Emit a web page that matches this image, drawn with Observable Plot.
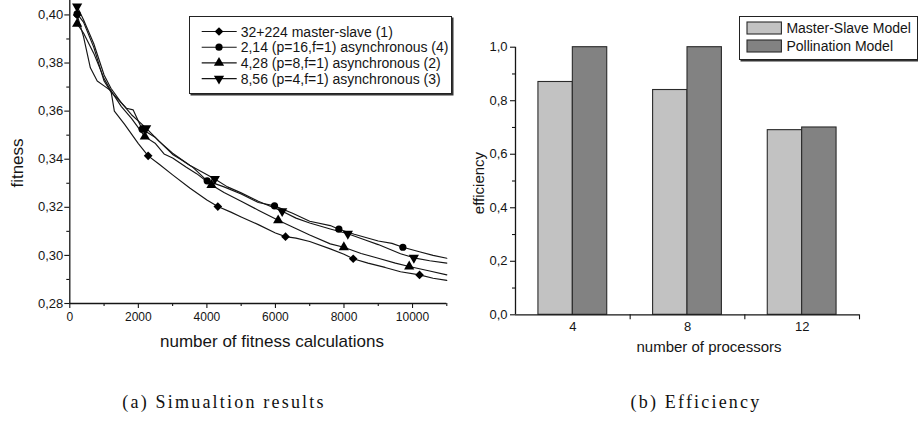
<!DOCTYPE html>
<html><head><meta charset="utf-8">
<script src="https://cdn.jsdelivr.net/npm/d3@7"></script>
<script src="https://cdn.jsdelivr.net/npm/@observablehq/plot@0.6"></script>
<style>
body{margin:0;background:#fff;}
#wrap{position:relative;width:918px;height:423px;overflow:hidden;background:#fff;font-family:"Liberation Sans",Arial,sans-serif;color:#151515;}
.abs{position:absolute;white-space:nowrap;}
.cap{font-family:"Liberation Serif","Times New Roman",serif;font-size:18px;letter-spacing:2.2px;color:#111;}
.box{border:1px solid #222;box-shadow:1.5px 1.5px 0 #333;background:#fff;box-sizing:border-box;}
</style></head><body><div id="wrap"></div>
<script>
// ---------- (a) Simulation results ----------
const seriesNames = ["32+224 master-slave (1)", "2,14 (p=16,f=1) asynchronous (4)", "4,28 (p=8,f=1) asynchronous (2)", "8,56 (p=4,f=1) asynchronous (3)"];
const calc1 = [214, 400, 600, 800, 1000, 1200, 1300, 1600, 2000, 2286, 2600, 3000, 3500, 4000, 4319, 4700, 5000, 5500, 6000, 6294, 6600, 7000, 7600, 8000, 8269, 8700, 9200, 9650, 10205, 10600, 11000];
const fit1  = [0.4000, 0.391, 0.378, 0.3725, 0.3705, 0.3685, 0.3600, 0.3545, 0.3465, 0.3414, 0.3380, 0.3335, 0.3280, 0.3230, 0.3203, 0.3180, 0.3160, 0.3128, 0.3093, 0.3078, 0.3072, 0.3058, 0.3027, 0.3005, 0.2986, 0.2968, 0.2950, 0.2932, 0.2919, 0.2905, 0.2896];
const mark1 = [214, 2286, 4319, 6294, 8269, 10205];
const calc2 = [214, 400, 700, 1000, 1200, 1500, 1650, 1850, 2110, 2500, 3000, 3230, 3600, 4008, 4500, 5000, 5500, 5973, 6500, 7000, 7600, 7851, 8300, 9000, 9400, 9718, 10200, 10600, 11000];
const fit2  = [0.4004, 0.397, 0.3865, 0.3725, 0.3680, 0.3635, 0.3612, 0.3605, 0.3525, 0.3490, 0.3420, 0.3400, 0.3365, 0.3310, 0.3285, 0.3255, 0.3220, 0.3206, 0.3175, 0.3142, 0.3124, 0.3109, 0.3088, 0.3060, 0.3050, 0.3034, 0.3015, 0.3000, 0.2988];
const mark2 = [214, 2110, 4008, 5973, 7851, 9718];
const calc3 = [214, 400, 700, 1000, 1200, 1500, 1800, 2189, 2500, 2750, 3000, 3400, 3700, 4134, 4500, 5000, 5500, 6080, 6500, 7000, 7600, 7996, 8500, 9000, 9500, 9903, 10500, 11000];
const fit3  = [0.3963, 0.3925, 0.3840, 0.3735, 0.3685, 0.3620, 0.3570, 0.3494, 0.3465, 0.3422, 0.3405, 0.3367, 0.3340, 0.3293, 0.3262, 0.3225, 0.3188, 0.3146, 0.3118, 0.3085, 0.3048, 0.3034, 0.3008, 0.2988, 0.2968, 0.2954, 0.2935, 0.2919];
const mark3 = [214, 2189, 4134, 6080, 7996, 9903];
const calc4 = [214, 400, 700, 1000, 1200, 1500, 1800, 2228, 2600, 3000, 3500, 4232, 4600, 5000, 5500, 6197, 6600, 7000, 7600, 8113, 8600, 9000, 9650, 10039, 10500, 11000];
const fit4  = [0.4035, 0.3980, 0.3880, 0.3750, 0.3695, 0.3635, 0.3585, 0.3529, 0.3475, 0.3425, 0.3375, 0.3318, 0.3285, 0.3260, 0.3225, 0.3184, 0.3155, 0.3135, 0.3110, 0.3090, 0.3065, 0.3045, 0.3007, 0.2990, 0.2978, 0.2968];
const mark4 = [214, 2228, 4232, 6197, 8113, 10039];
const calcTicks = [0, 2000, 4000, 6000, 8000, 10000];
const calcMinor = [1000, 3000, 5000, 7000, 9000, 11000];
const fitTicks = [0.28, 0.30, 0.32, 0.34, 0.36, 0.38, 0.40];
const fitMinor = [0.29, 0.31, 0.33, 0.35, 0.37, 0.39];

// ---------- (b) Efficiency ----------
const processors = [4, 8, 12];
const masterSlave = [0.87, 0.84, 0.69];
const pollination = [1.0, 1.0, 0.70];
const modelNames = ["Master-Slave Model", "Pollination Model"];
const effTicks = [0, 0.2, 0.4, 0.6, 0.8, 1.0];
const effMinor = [0.1, 0.3, 0.5, 0.7, 0.9];
const procBounds = [6, 10, 14];

// ---------- styling ----------
const ink = "#151515";
const symbolNames = ["diamond2", "circle", "triangle", "triangle"];
const symbolTypes = [d3.symbolDiamond2, d3.symbolCircle, d3.symbolTriangle, d3.symbolTriangle];
const symbolRot = [0, 0, 0, 180];
const symbolR = [3.9, 3.6, 3.8, 3.8];
const barFills = ["#c2c2c2", "#828282"];
const barHalf = 1.2; // bar width in processor units
const font = '"Liberation Sans", Arial, sans-serif';
const comma = (d, n) => d.toFixed(n).replace(".", ",");

const wrap = document.getElementById("wrap");
function place(el, x, y) { el.style.position = "absolute"; el.style.left = x + "px"; el.style.top = y + "px"; wrap.appendChild(el); return el; }
function label(text, cx, cy, size, rotate, cls) {
  const d = document.createElement("div");
  d.className = "abs " + (cls || "");
  d.textContent = text;
  if (size) d.style.fontSize = size + "px";
  d.style.left = cx + "px"; d.style.top = cy + "px";
  d.style.transform = "translate(-50%,-50%)" + (rotate ? " rotate(" + rotate + "deg)" : "");
  wrap.appendChild(d);
}

// ---------- left chart ----------
const calcs = [calc1, calc2, calc3, calc4];
const fits = [fit1, fit2, fit3, fit4];
const marks = [mark1, mark2, mark3, mark4];
const lineRows = [];
calcs.forEach((xs, i) => xs.forEach((x, j) => lineRows.push({s: seriesNames[i], x, y: fits[i][j]})));
const markRows = i => marks[i].map(x => ({x, y: fits[i][calcs[i].indexOf(x)]}));

const left = Plot.plot({
  width: 460, height: 330,
  marginLeft: 69.3, marginRight: 13.7, marginTop: 0, marginBottom: 27,
  x: {domain: [0, 11000]},
  y: {domain: [0.28, 0.406]},
  style: {fontFamily: font, fontSize: "13px", color: ink, background: "transparent", overflow: "visible"},
  marks: [
    Plot.axisY(fitTicks, {tickSize: 5, tickPadding: 1.5, tickFormat: d => comma(d, 2), fontSize: 13, label: null, strokeWidth: 1.1}),
    Plot.axisY(fitMinor, {tickSize: 3, tickFormat: () => "", label: null, strokeWidth: 1.1}),
    Plot.axisX(calcTicks, {tickSize: 5, tickPadding: 4, tickFormat: d => String(d), fontSize: 12, label: null, strokeWidth: 1.1}),
    Plot.axisX(calcMinor, {tickSize: 3, tickFormat: () => "", label: null, strokeWidth: 1.1}),
    Plot.ruleX([0], {stroke: ink, strokeWidth: 1.3}),
    Plot.ruleY([0.28], {stroke: ink, strokeWidth: 1.3}),
    Plot.line(lineRows, {x: "x", y: "y", z: "s", stroke: ink, strokeWidth: 1.15}),
    ...marks.map((m, i) => Plot.dot(markRows(i), {x: "x", y: "y", symbol: symbolNames[i], rotate: symbolRot[i], r: symbolR[i], fill: "#000", stroke: "none"}))
  ]
});
place(left, 0, 0);

// ---------- right chart ----------
const msRows = processors.map((p, i) => ({p, v: masterSlave[i]}));
const pmRows = processors.map((p, i) => ({p, v: pollination[i]}));
const right = Plot.plot({
  width: 458, height: 335,
  marginLeft: 55, marginRight: 59, marginTop: 46.7, marginBottom: 20.7,
  x: {domain: [2, 14]},
  y: {domain: [0, 1]},
  style: {fontFamily: font, fontSize: "13px", color: ink, background: "transparent", overflow: "visible"},
  marks: [
    Plot.rectY(msRows, {x1: d => d.p - barHalf, x2: d => d.p, y: "v", fill: barFills[0], stroke: "#2a2a2a", strokeWidth: 1.1}),
    Plot.rectY(pmRows, {x1: d => d.p, x2: d => d.p + barHalf, y: "v", fill: barFills[1], stroke: "#2a2a2a", strokeWidth: 1.1}),
    Plot.axisY(effTicks, {tickSize: 5, tickPadding: 3, tickFormat: d => comma(d, 1), fontSize: 13, label: null, strokeWidth: 1.1}),
    Plot.axisY(effMinor, {tickSize: 3, tickFormat: () => "", label: null, strokeWidth: 1.1}),
    Plot.axisX(processors, {tickSize: 0, tickPadding: 7, tickFormat: d => String(d), fontSize: 13, label: null}),
    Plot.axisX(procBounds, {tickSize: 5, tickFormat: () => "", label: null, strokeWidth: 1.1}),
    Plot.ruleX([2], {stroke: ink, strokeWidth: 1.3}),
    Plot.ruleY([0], {stroke: ink, strokeWidth: 1.3})
  ]
});
place(right, 460, 0);

// ---------- axis titles ----------
label("fitness", 18, 163, 17, -90);
label("number of fitness calculations", 272, 342, 17);
label("efficiency", 478, 183, 15, -90);
label("number of processors", 709, 346, 15);

// ---------- left legend ----------
const lb = document.createElement("div");
lb.className = "box";
lb.style.width = "263px"; lb.style.height = "78px";
place(lb, 189, 16);
const lsvg = d3.create("svg").attr("width", 263).attr("height", 78)
  .style("position", "absolute").style("left", "189px").style("top", "16px").style("font-family", font);
seriesNames.forEach((name, i) => {
  const cy = 15.5 + i * 15.7;
  lsvg.append("line").attr("x1", 12.7).attr("x2", 47.7).attr("y1", cy).attr("y2", cy).attr("stroke", ink).attr("stroke-width", 1.15);
  lsvg.append("path").attr("d", d3.symbol(symbolTypes[i], symbolR[i] * symbolR[i] * Math.PI)())
    .attr("transform", `translate(30,${cy}) rotate(${symbolRot[i]})`).attr("fill", "#000");
  lsvg.append("text").attr("x", 51.7).attr("y", cy).attr("dy", "0.36em").attr("font-size", 14).attr("fill", ink).text(name);
});
wrap.appendChild(lsvg.node());

// ---------- right legend ----------
const rb = document.createElement("div");
rb.className = "box";
rb.style.width = "179px"; rb.style.height = "44px";
place(rb, 739.3, 16);
const rsvg = d3.create("svg").attr("width", 179).attr("height", 44)
  .style("position", "absolute").style("left", "739.3px").style("top", "16px").style("font-family", font);
modelNames.forEach((name, i) => {
  const cy = 12 + i * 18;
  rsvg.append("rect").attr("x", 8).attr("y", cy - 6).attr("width", 34.4).attr("height", 12)
    .attr("fill", barFills[i]).attr("stroke", "#2a2a2a").attr("stroke-width", 1.1);
  rsvg.append("text").attr("x", 47.4).attr("y", cy).attr("dy", "0.36em").attr("font-size", 14).attr("fill", ink).text(name);
});
wrap.appendChild(rsvg.node());

// ---------- captions ----------
label("(a) Simualtion results", 224, 402, null, 0, "cap");
label("(b) Efficiency", 696, 402, null, 0, "cap");
</script>
</body></html>
